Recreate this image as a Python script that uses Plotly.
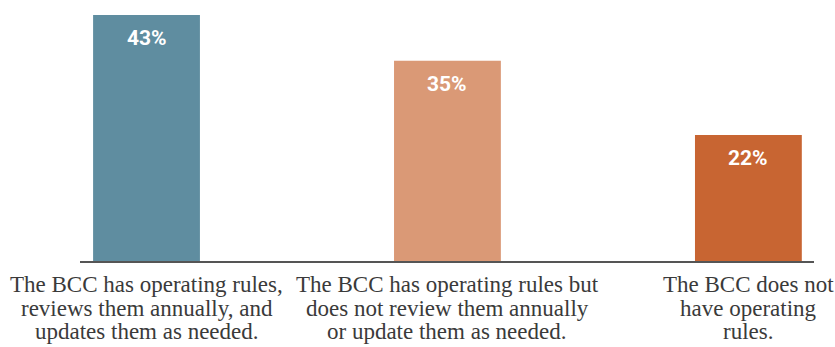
import plotly.graph_objects as go

# Survey responses on BCC operating rules
categories = [
    "The BCC has operating rules, reviews them annually, and updates them as needed.",
    "The BCC has operating rules but does not review them annually or update them as needed.",
    "The BCC does not have operating rules.",
]
label_lines = [
    ["The BCC has operating rules,", "reviews them annually, and", "updates them as needed."],
    ["The BCC has operating rules but", "does not review them annually", "or update them as needed."],
    ["The BCC does not", "have operating", "rules."],
]
values = [43, 35, 22]
value_text = ["43%", "35%", "22%"]
colors = ["#5F8DA0", "#DA9976", "#C86532"]

serif = "Palatino Linotype, Book Antiqua, Liberation Serif, serif"
narrow = "Arial Narrow, Liberation Sans Narrow, Roboto, Arial, sans-serif"

fig = go.Figure(
    go.Bar(
        x=categories,
        y=values,
        marker=dict(color=colors, line=dict(width=0)),
        hoverinfo="skip",
    )
)

annotations = []
# value labels inside the bars, near the top
for cat, v, t in zip(categories, values, value_text):
    annotations.append(dict(
        x=cat, y=v, xref="x", yref="y", text=t, showarrow=False,
        yanchor="middle", yshift=-23,
        font=dict(family=narrow, size=21, color="white", weight="bold"),
    ))

# multi-line category labels under the axis
line_shifts = [-23, -47, -70]
for cat, lines in zip(categories, label_lines):
    for line, ys in zip(lines, line_shifts):
        annotations.append(dict(
            x=cat, y=0, xref="x", yref="paper", text=line, showarrow=False,
            yanchor="middle", yshift=ys,
            font=dict(family=serif, size=23, color="#3A3A3A"),
        ))

fig.update_layout(
    width=835, height=347,
    margin=dict(l=80, r=21, t=0, b=86),
    paper_bgcolor="white", plot_bgcolor="white",
    bargap=0.645,
    showlegend=False,
    annotations=annotations,
    xaxis=dict(
        type="category", range=[-0.221, 2.218],
        showticklabels=False, showgrid=False, zeroline=False,
        showline=True, linecolor="#555555", linewidth=1.5, ticks="",
    ),
    yaxis=dict(range=[0, 45.6], visible=False, showgrid=False, zeroline=False),
)

fig.write_html("out.html")
